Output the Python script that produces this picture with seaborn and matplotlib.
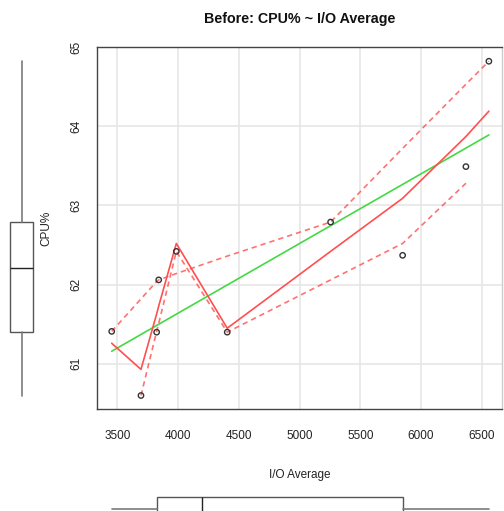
import numpy as np
import pandas as pd
import matplotlib
matplotlib.use("Agg")
import matplotlib.pyplot as plt
import seaborn as sns

# ---- data ----
io_avg = [3454, 3695, 3824, 3841, 3986, 4405, 5256, 5849, 6370, 6559]
cpu = [61.41, 60.60, 61.40, 62.06, 62.42, 61.40, 62.79, 62.37, 63.49, 64.82]
smooth = [61.26, 60.93, 61.63, 61.73, 62.52, 61.45, 62.42, 63.09, 63.87, 64.19]
spread_upper = [61.41, 61.82, 62.04, 62.06, 62.14, 62.36, 62.79, 63.72, 64.53, 64.82]
spread_lower = [np.nan, 60.60, 61.41, 61.51, 62.42, 61.40, 62.06, 62.52, 63.28, np.nan]
x_ticks = [3500, 4000, 4500, 5000, 5500, 6000, 6500]
y_ticks = [61, 62, 63, 64, 65]
title = "Before: CPU% ~ I/O Average"
x_label = "I/O Average"
y_label = "CPU%"

df = pd.DataFrame({"io": io_avg, "cpu": cpu, "smooth": smooth,
                   "upper": spread_upper, "lower": spread_lower})

sns.set_style("white")
plt.rcParams["font.family"] = ["Liberation Sans", "DejaVu Sans"]

W, H = 504, 511
fig = plt.figure(figsize=(W / 100, H / 100), dpi=100)

def frac(l, t, r, b):
    return [l / W, (H - b) / H, (r - l) / W, (b - t) / H]

ax = fig.add_axes(frac(97, 47, 502, 409))
xlim = (3333, 6667)
ylim = (60.43, 65.0)

GREEN = "#44d944"
RED = "#ff4f4f"

sns.regplot(data=df, x="io", y="cpu", scatter=False, ci=None, truncate=True,
            color=GREEN, line_kws={"lw": 1.2, "zorder": 3}, ax=ax)
sns.lineplot(data=df, x="io", y="smooth", color=RED, lw=1.2, ax=ax,
             estimator=None, sort=True, zorder=4)
for col in ["upper", "lower"]:
    sub = df[["io", col]].dropna()
    sns.lineplot(data=sub, x="io", y=col, color=RED, lw=1.2, ax=ax,
                 estimator=None, sort=True, dashes=False, zorder=4,
                 linestyle=(0, (3.2, 2.4)), alpha=0.8)
sns.scatterplot(data=df, x="io", y="cpu", ax=ax, marker="o", s=15,
                facecolor="none", edgecolor="#333333", linewidth=1.0, zorder=5)

ax.set_xlim(*xlim)
ax.set_ylim(*ylim)
ax.set_xticks(x_ticks)
ax.set_yticks(y_ticks)
ax.grid(True, color="#e6e6e6", lw=1.2, zorder=0)
ax.set_axisbelow(True)
for s in ax.spines.values():
    s.set_color("#444444")
    s.set_linewidth(1.0)
ax.spines["right"].set_color("#cccccc")
ax.tick_params(axis="both", direction="out", length=5, width=1, color="#444444",
               labelsize=8.5, labelcolor="#222222")
ax.tick_params(axis="x", pad=10)
ax.tick_params(axis="y", pad=5.5, labelrotation=90)
for lab in ax.get_yticklabels():
    lab.set_va("center")

ax.set_xlabel(x_label, fontsize=8.5, color="#222222", va="center")
ax.set_ylabel(y_label, fontsize=8.5, color="#222222", va="center")
ax.xaxis.set_label_coords(0.5, -(475 - 409) / 362)
ax.yaxis.set_label_coords((46 - 97) / 405, 0.5)
ax.set_title(title, fontsize=10.3, fontweight="bold", y=(409 - 18.5) / 362,
             va="center", color="#111111", pad=0)

# ---- marginal boxplots (Tukey hinges as in R's boxplot) ----
def fivenum(v):
    v = np.sort(np.asarray(v, float))
    n = len(v)
    n4 = np.floor((n + 3) / 2) / 2
    d = np.array([1, n4, (n + 1) / 2, n + 1 - n4, n]) - 1
    return 0.5 * (v[np.floor(d).astype(int)] + v[np.ceil(d).astype(int)])

def stats(v):
    lo, q1, med, q3, hi = fivenum(v)
    return [{"whislo": lo, "q1": q1, "med": med, "q3": q3, "whishi": hi, "fliers": []}]

box_kw = dict(showcaps=False, patch_artist=True,
              boxprops=dict(facecolor="white", edgecolor="#555555", lw=1.0),
              whiskerprops=dict(color="#7a7a7a", lw=1.2, linestyle="-"),
              medianprops=dict(color="#222222", lw=1.0))

axb = fig.add_axes(frac(97, 489, 502, 529))
axb.bxp(stats(io_avg), positions=[0], widths=1.2, vert=False, **box_kw)
axb.set_xlim(*xlim)
axb.set_ylim(-1, 1)
axb.axis("off")

axl = fig.add_axes(frac(1.7, 47, 41.7, 409))
axl.bxp(stats(cpu), positions=[0], widths=1.17, vert=True, **box_kw)
axl.set_ylim(*ylim)
axl.set_xlim(-1, 1)
axl.axis("off")

fig.savefig("out.png", dpi=100)
